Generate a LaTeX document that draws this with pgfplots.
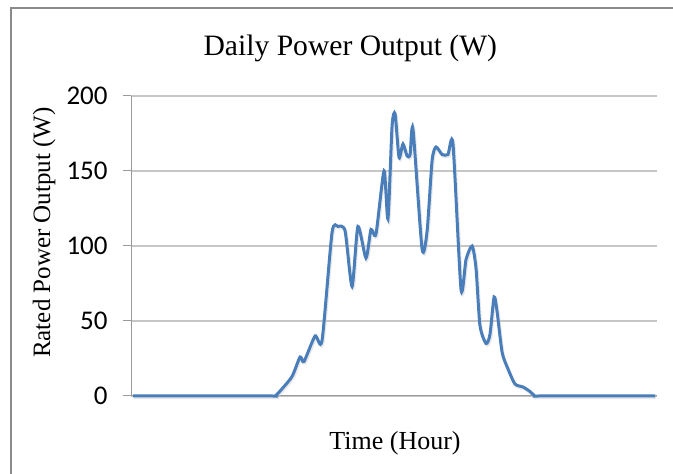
\documentclass[border=0pt]{standalone}
\usepackage{fontspec}
\setmainfont{Liberation Serif}
\newfontfamily\carlito{Carlito}
\usepackage{pgfplots}
\pgfplotsset{compat=1.18}
\definecolor{linecol}{HTML}{4A7EBB}
\definecolor{gridcol}{HTML}{C6C6C6}
\definecolor{axcol}{HTML}{9A9A9A}
\definecolor{framecol}{HTML}{8A8A8A}
\pgfplotstableread{
h p
0.00 0
6.30 0
6.53 0
6.76 3.3
7.31 13
7.68 26
7.86 23
8.37 40
8.69 37
9.15 109
9.43 113
9.75 110
10.07 73
10.34 113
10.71 92
10.94 111
11.17 108
11.54 150
11.72 118
11.91 180
12.05 188
12.23 159
12.41 168
12.60 160
12.74 161
12.87 178
13.29 98
13.52 110
13.75 157
13.93 166
14.21 161
14.48 161
14.71 168
15.08 71
15.31 91
15.59 100
15.77 85
15.95 47
16.23 35
16.41 41
16.60 66
16.74 56
16.97 29
17.24 18
17.56 8
17.93 6
18.25 3
18.48 0
18.70 0
24.00 0
}\powertable
\begin{document}
\begin{tikzpicture}[x=0.5pt,y=0.5pt]
\useasboundingbox (0,0) rectangle (673,474);
\draw[framecol, line width=1pt] (11,0) -- (11,466) -- (673,466);
\begin{axis}[
  at={(65.5pt,39pt)}, anchor=south west,
  scale only axis, width=263pt, height=150pt,
  xmin=-0.092, xmax=24.09, ymin=0, ymax=200,
  axis x line=bottom, axis y line=left,
  axis line style={axcol, line width=0.5pt, -},
  xtick=\empty,
  ytick={0,50,100,150,200},
  ymajorgrids, grid style={gridcol, line width=0.6pt},
  tick align=outside, major tick length=4pt,
  tick style={axcol, line width=0.5pt},
  /pgf/number format/assume math mode=true,
  yticklabel style={font=\carlito\fontsize{13.5}{14}\selectfont, anchor=east, inner sep=0pt, xshift=-7.5pt},
  every axis title shift=0pt,
  title={Daily Power Output (W)},
  title style={font=\fontsize{14.8}{16}\selectfont, at={(axis description cs:0.417,1.16)}, anchor=center, inner sep=0pt},
  xlabel={Time (Hour)},
  xlabel style={font=\fontsize{13}{15}\selectfont, at={(axis description cs:0.502,-0.157)}, anchor=center, inner sep=0pt},
  ylabel={Rated Power Output (W)},
  ylabel style={font=\fontsize{12.5}{14}\selectfont, at={(axis description cs:-0.165,0.545)}, anchor=center, inner sep=0pt},
  clip=false,
]
\addplot[black!20, opacity=0.45, line width=1.6pt, smooth, tension=0.4, yshift=-0.8pt, xshift=0.5pt] table[x=h,y=p] {\powertable};
\addplot[linecol, line width=1.5pt, smooth, tension=0.4] table[x=h,y=p] {\powertable};
\end{axis}
\end{tikzpicture}
\end{document}
